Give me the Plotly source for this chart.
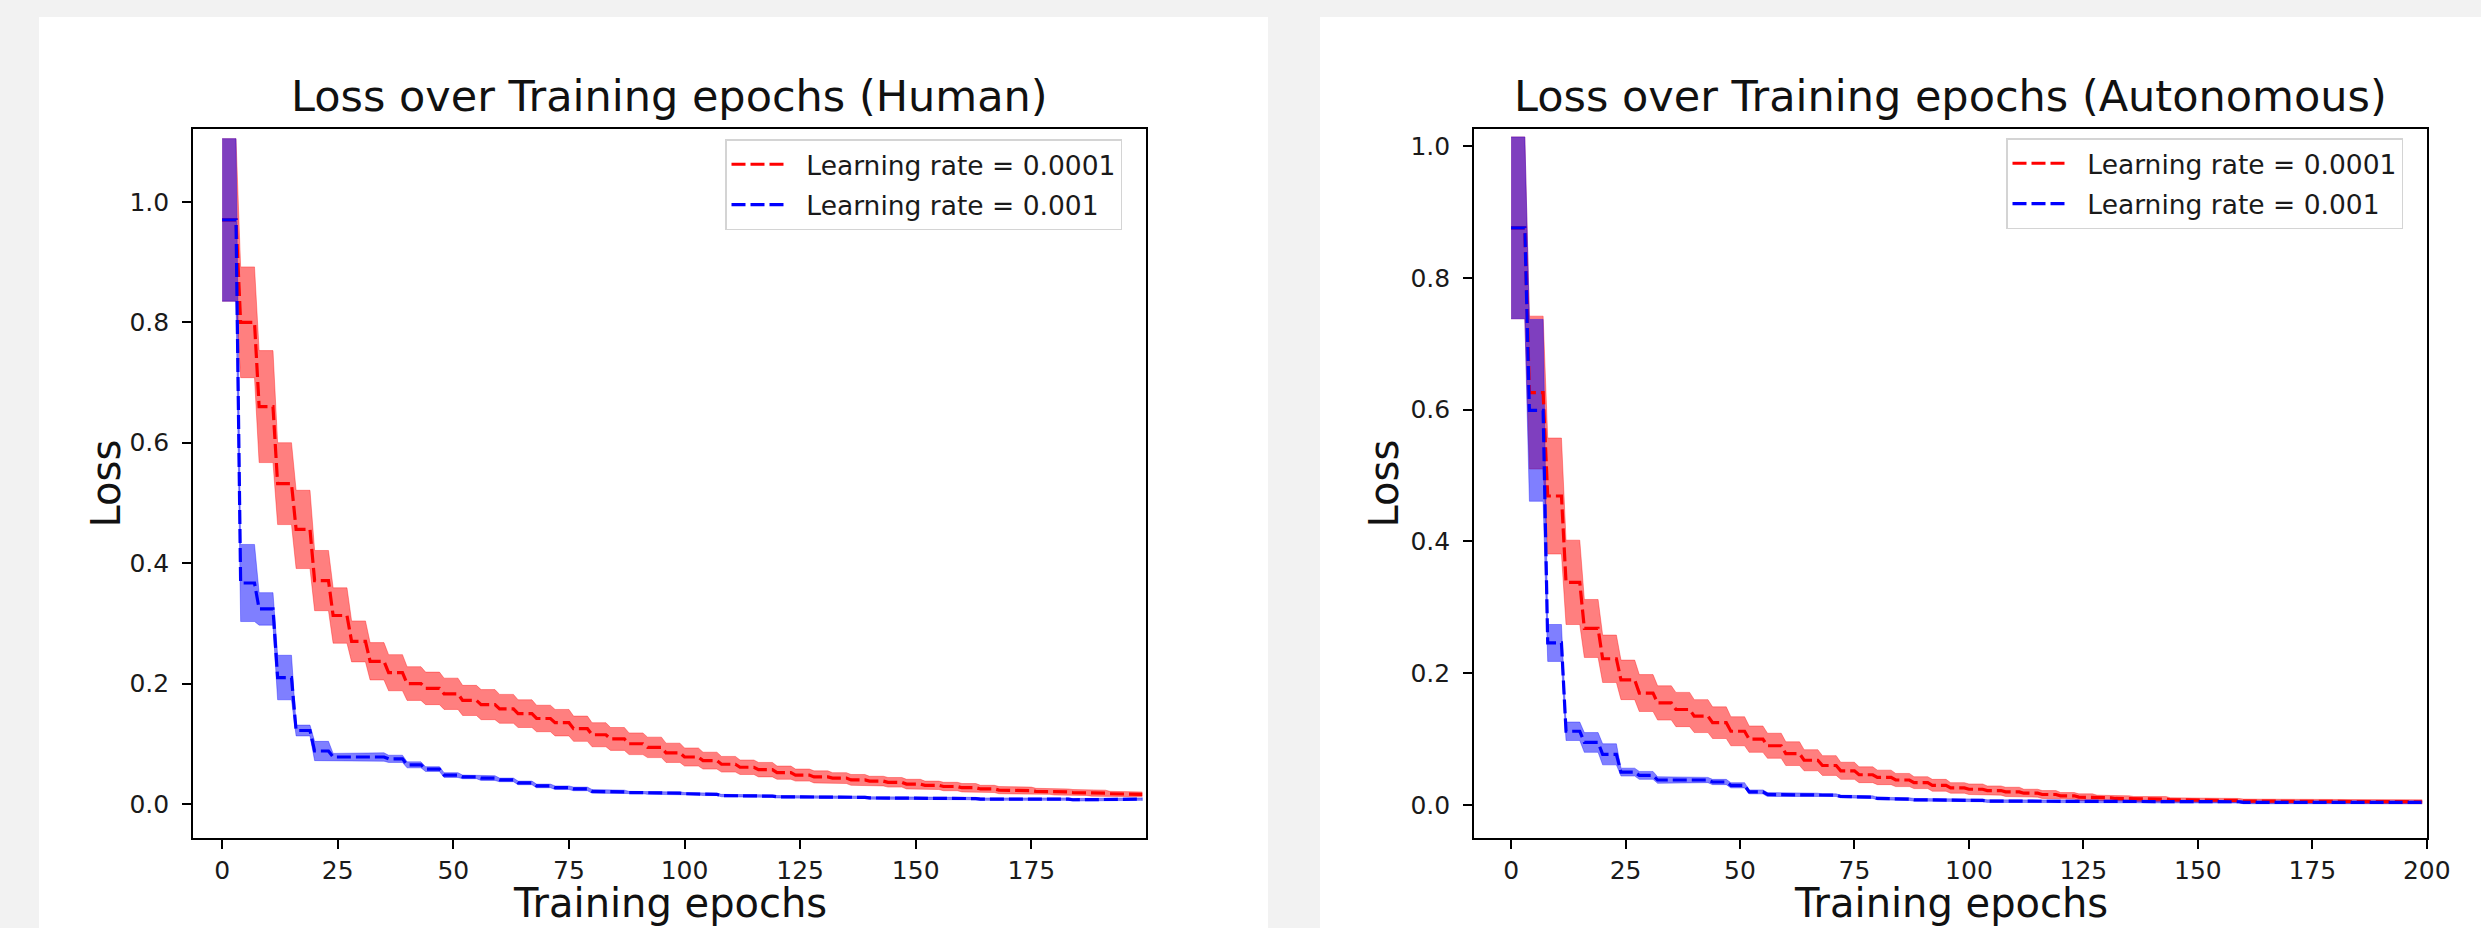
import numpy as np
import plotly.graph_objects as go

W, H = 2481, 928

# ---------------- data (block values, each block = 4 consecutive epochs) ----------------
epochs = list(range(200))
block_len = 4

human_red_mean = [0.970, 0.800, 0.660, 0.532, 0.456, 0.371, 0.313, 0.270, 0.237, 0.218,
                  0.200, 0.192, 0.183, 0.172, 0.165, 0.158, 0.150, 0.142, 0.135, 0.125,
                  0.115, 0.108, 0.100, 0.094, 0.085, 0.078, 0.072, 0.066, 0.061, 0.057,
                  0.052, 0.048, 0.045, 0.043, 0.040, 0.038, 0.036, 0.033, 0.031, 0.029,
                  0.027, 0.025, 0.023, 0.022, 0.021, 0.020, 0.019, 0.018, 0.017, 0.016]
human_red_std = [0.135, 0.092, 0.093, 0.068, 0.065, 0.050, 0.046, 0.034, 0.031, 0.030,
                 0.028, 0.027, 0.026, 0.025, 0.025, 0.024, 0.023, 0.022, 0.022, 0.021,
                 0.020, 0.019, 0.018, 0.017, 0.016, 0.015, 0.014, 0.013, 0.012, 0.012,
                 0.011, 0.010, 0.010, 0.009, 0.009, 0.008, 0.008, 0.008, 0.007, 0.007,
                 0.007, 0.006, 0.006, 0.006, 0.005, 0.005, 0.005, 0.005, 0.004, 0.004]
human_blue_mean = [0.970, 0.367, 0.324, 0.210, 0.122, 0.088, 0.078, 0.078, 0.078, 0.075,
                   0.065, 0.058, 0.048, 0.045, 0.043, 0.040, 0.035, 0.030, 0.027, 0.025,
                   0.021, 0.020, 0.019, 0.018, 0.018, 0.017, 0.016, 0.014, 0.013, 0.013,
                   0.012, 0.012, 0.012, 0.011, 0.011, 0.010, 0.010, 0.010, 0.009, 0.009,
                   0.009, 0.008, 0.008, 0.009, 0.008, 0.008, 0.007, 0.007, 0.007, 0.008]
human_blue_std = [0.135, 0.064, 0.027, 0.037, 0.009, 0.016, 0.006, 0.007, 0.007, 0.006,
                  0.005, 0.004, 0.004, 0.003, 0.004, 0.003, 0.003, 0.003, 0.003, 0.003,
                  0.003, 0.003, 0.002, 0.002, 0.002, 0.002, 0.002, 0.002, 0.002, 0.002,
                  0.002, 0.002, 0.002, 0.002, 0.002, 0.002, 0.002, 0.002, 0.002, 0.002,
                  0.002, 0.002, 0.002, 0.002, 0.002, 0.002, 0.002, 0.002, 0.002, 0.002]

auto_red_mean = [0.876, 0.626, 0.469, 0.338, 0.268, 0.222, 0.190, 0.170, 0.155, 0.145,
                 0.135, 0.125, 0.112, 0.100, 0.090, 0.078, 0.068, 0.060, 0.052, 0.046,
                 0.042, 0.038, 0.034, 0.030, 0.026, 0.024, 0.022, 0.020, 0.018, 0.016,
                 0.014, 0.012, 0.011, 0.010, 0.009, 0.009, 0.008, 0.008, 0.007, 0.007,
                 0.006, 0.006, 0.005, 0.005, 0.006, 0.006, 0.005, 0.005, 0.005, 0.005]
auto_red_std = [0.138, 0.116, 0.088, 0.064, 0.044, 0.036, 0.030, 0.028, 0.026, 0.026,
                0.025, 0.024, 0.022, 0.020, 0.019, 0.018, 0.016, 0.015, 0.013, 0.012,
                0.011, 0.010, 0.009, 0.009, 0.008, 0.008, 0.007, 0.007, 0.006, 0.006,
                0.005, 0.005, 0.004, 0.004, 0.004, 0.004, 0.003, 0.003, 0.003, 0.003,
                0.003, 0.003, 0.003, 0.003, 0.003, 0.003, 0.003, 0.003, 0.003, 0.003]
auto_blue_mean = [0.876, 0.599, 0.246, 0.112, 0.095, 0.077, 0.050, 0.045, 0.038, 0.038,
                  0.038, 0.035, 0.030, 0.020, 0.016, 0.015, 0.015, 0.015, 0.013, 0.012,
                  0.010, 0.009, 0.008, 0.008, 0.007, 0.007, 0.006, 0.006, 0.006, 0.006,
                  0.006, 0.006, 0.005, 0.005, 0.005, 0.005, 0.005, 0.005, 0.005, 0.005,
                  0.004, 0.004, 0.004, 0.004, 0.004, 0.004, 0.004, 0.004, 0.004, 0.004]
auto_blue_std = [0.138, 0.138, 0.028, 0.014, 0.015, 0.016, 0.006, 0.006, 0.005, 0.004,
                 0.004, 0.004, 0.004, 0.003, 0.003, 0.003, 0.003, 0.002, 0.002, 0.002,
                 0.002, 0.002, 0.002, 0.002, 0.002, 0.002, 0.002, 0.002, 0.002, 0.002,
                 0.002, 0.002, 0.002, 0.002, 0.002, 0.002, 0.002, 0.002, 0.002, 0.002,
                 0.002, 0.002, 0.002, 0.002, 0.002, 0.002, 0.002, 0.002, 0.002, 0.002]

series_names = ["Learning rate = 0.0001", "Learning rate = 0.001"]
panel_titles = ["Loss over Training epochs (Human)", "Loss over Training epochs (Autonomous)"]
x_label = "Training epochs"
y_label = "Loss"

# ---------------- layout geometry (pixels) ----------------
def px(x):
    return x / W

def py(y):
    return 1 - y / H

ax_l = (193, 1146)
ax_r = (1474, 2427)
ax_top, ax_bot = 129, 838

RED = "rgb(255,0,0)"
BLUE = "rgb(0,0,255)"
RED_FILL = "rgba(255,0,0,0.5)"
BLUE_FILL = "rgba(0,0,255,0.5)"
FONT = "DejaVu Sans"
NB = "\u00a0\u00a0"

fig = go.Figure()

def per_epoch(block_vals):
    return np.repeat(np.array(block_vals), block_len)

def add_panel(xa, ya, red_m, red_s, blue_m, blue_s, legend_name):
    rm, rs = per_epoch(red_m), per_epoch(red_s)
    bm, bs = per_epoch(blue_m), per_epoch(blue_s)
    # red band
    fig.add_trace(go.Scatter(x=epochs, y=rm - rs, mode="lines", xaxis=xa, yaxis=ya,
                             line=dict(color="rgba(255,0,0,0.35)", width=1),
                             showlegend=False, hoverinfo="skip"))
    fig.add_trace(go.Scatter(x=epochs, y=rm + rs, mode="lines", xaxis=xa, yaxis=ya,
                             line=dict(color="rgba(255,0,0,0.35)", width=1),
                             fill="tonexty", fillcolor=RED_FILL,
                             showlegend=False, hoverinfo="skip"))
    # blue band
    fig.add_trace(go.Scatter(x=epochs, y=bm - bs, mode="lines", xaxis=xa, yaxis=ya,
                             line=dict(color="rgba(0,0,255,0.35)", width=1),
                             showlegend=False, hoverinfo="skip"))
    fig.add_trace(go.Scatter(x=epochs, y=bm + bs, mode="lines", xaxis=xa, yaxis=ya,
                             line=dict(color="rgba(0,0,255,0.35)", width=1),
                             fill="tonexty", fillcolor=BLUE_FILL,
                             showlegend=False, hoverinfo="skip"))
    # mean lines
    fig.add_trace(go.Scatter(x=epochs, y=rm, mode="lines", xaxis=xa, yaxis=ya,
                             name=NB + series_names[0], legend=legend_name,
                             legendgroup=legend_name + "r",
                             line=dict(color=RED, width=3.2, dash="14px,5px")))
    fig.add_trace(go.Scatter(x=epochs, y=bm, mode="lines", xaxis=xa, yaxis=ya,
                             name=NB + series_names[1], legend=legend_name,
                             legendgroup=legend_name + "b",
                             line=dict(color=BLUE, width=3.2, dash="14px,5px")))

add_panel("x", "y", human_red_mean, human_red_std, human_blue_mean, human_blue_std, "legend")
add_panel("x2", "y2", auto_red_mean, auto_red_std, auto_blue_mean, auto_blue_std, "legend2")

axis_common = dict(showline=True, mirror=True, linecolor="black", linewidth=1.6,
                   showgrid=False, zeroline=False, ticks="outside", ticklen=9,
                   tickwidth=1.6, tickcolor="black", automargin=False,
                   tickfont=dict(family=FONT, size=25, color="#1a1a1a"))

legend_common = dict(xanchor="left", yanchor="top",
                     bgcolor="rgba(255,255,255,0.85)", bordercolor="#d4d4d4", borderwidth=1.5,
                     font=dict(family=FONT, size=26.5, color="#1a1a1a"),
                     tracegroupgap=3, traceorder="grouped", itemwidth=53)

yd = [py(ax_bot), py(ax_top)]
fig.update_layout(
    template="none",
    width=W, height=H,
    margin=dict(l=0, r=0, t=0, b=0, pad=0),
    paper_bgcolor="#f2f2f2",
    plot_bgcolor="white",
    font=dict(family=FONT, color="#1a1a1a"),
    xaxis=dict(domain=[px(ax_l[0]), px(ax_l[1])], range=[-6.3, 199.8], anchor="y",
               tickmode="array", tickvals=[0, 25, 50, 75, 100, 125, 150, 175], **axis_common),
    yaxis=dict(domain=yd, range=[-0.0565, 1.121], anchor="x",
               tickmode="array", tickvals=[0, 0.2, 0.4, 0.6, 0.8, 1.0],
               tickformat=".1f", ticklabelstandoff=8, **axis_common),
    xaxis2=dict(domain=[px(ax_r[0]), px(ax_r[1])], range=[-8.1, 200.05], anchor="y2",
                tickmode="array", tickvals=[0, 25, 50, 75, 100, 125, 150, 175, 200], **axis_common),
    yaxis2=dict(domain=yd, range=[-0.050, 1.026], anchor="x2",
                tickmode="array", tickvals=[0, 0.2, 0.4, 0.6, 0.8, 1.0],
                tickformat=".1f", ticklabelstandoff=8, **axis_common),
    legend=dict(x=px(725), y=py(139), **legend_common),
    legend2=dict(x=px(2006), y=py(138), **legend_common),
    shapes=[
        dict(type="rect", xref="paper", yref="paper", x0=px(39), x1=px(1268),
             y0=0, y1=py(17), fillcolor="white", line=dict(width=0), layer="below"),
        dict(type="rect", xref="paper", yref="paper", x0=px(1320), x1=1,
             y0=0, y1=py(17), fillcolor="white", line=dict(width=0), layer="below"),
    ],
)

annotations = []
for (x0, x1), title, ylx in [(ax_l, panel_titles[0], 105), (ax_r, panel_titles[1], 1383)]:
    cx = px((x0 + x1) / 2)
    annotations.append(dict(text=title, x=cx, y=py(96), xref="paper", yref="paper",
                            xanchor="center", yanchor="middle", showarrow=False,
                            font=dict(family=FONT, size=43, color="#111111")))
    annotations.append(dict(text=x_label, x=cx, y=0, xref="paper", yref="paper",
                            xanchor="center", yanchor="bottom", showarrow=False,
                            font=dict(family=FONT, size=40, color="#111111")))
    annotations.append(dict(text=y_label, x=px(ylx), y=py((ax_top + ax_bot) / 2),
                            xref="paper", yref="paper", xanchor="center", yanchor="middle",
                            textangle=-90, showarrow=False,
                            font=dict(family=FONT, size=40, color="#111111")))
fig.update_layout(annotations=annotations)

fig.write_html("out.html",
               config={"displayModeBar": False},
               post_script="document.body.style.margin='0';document.body.style.overflow='hidden';")
